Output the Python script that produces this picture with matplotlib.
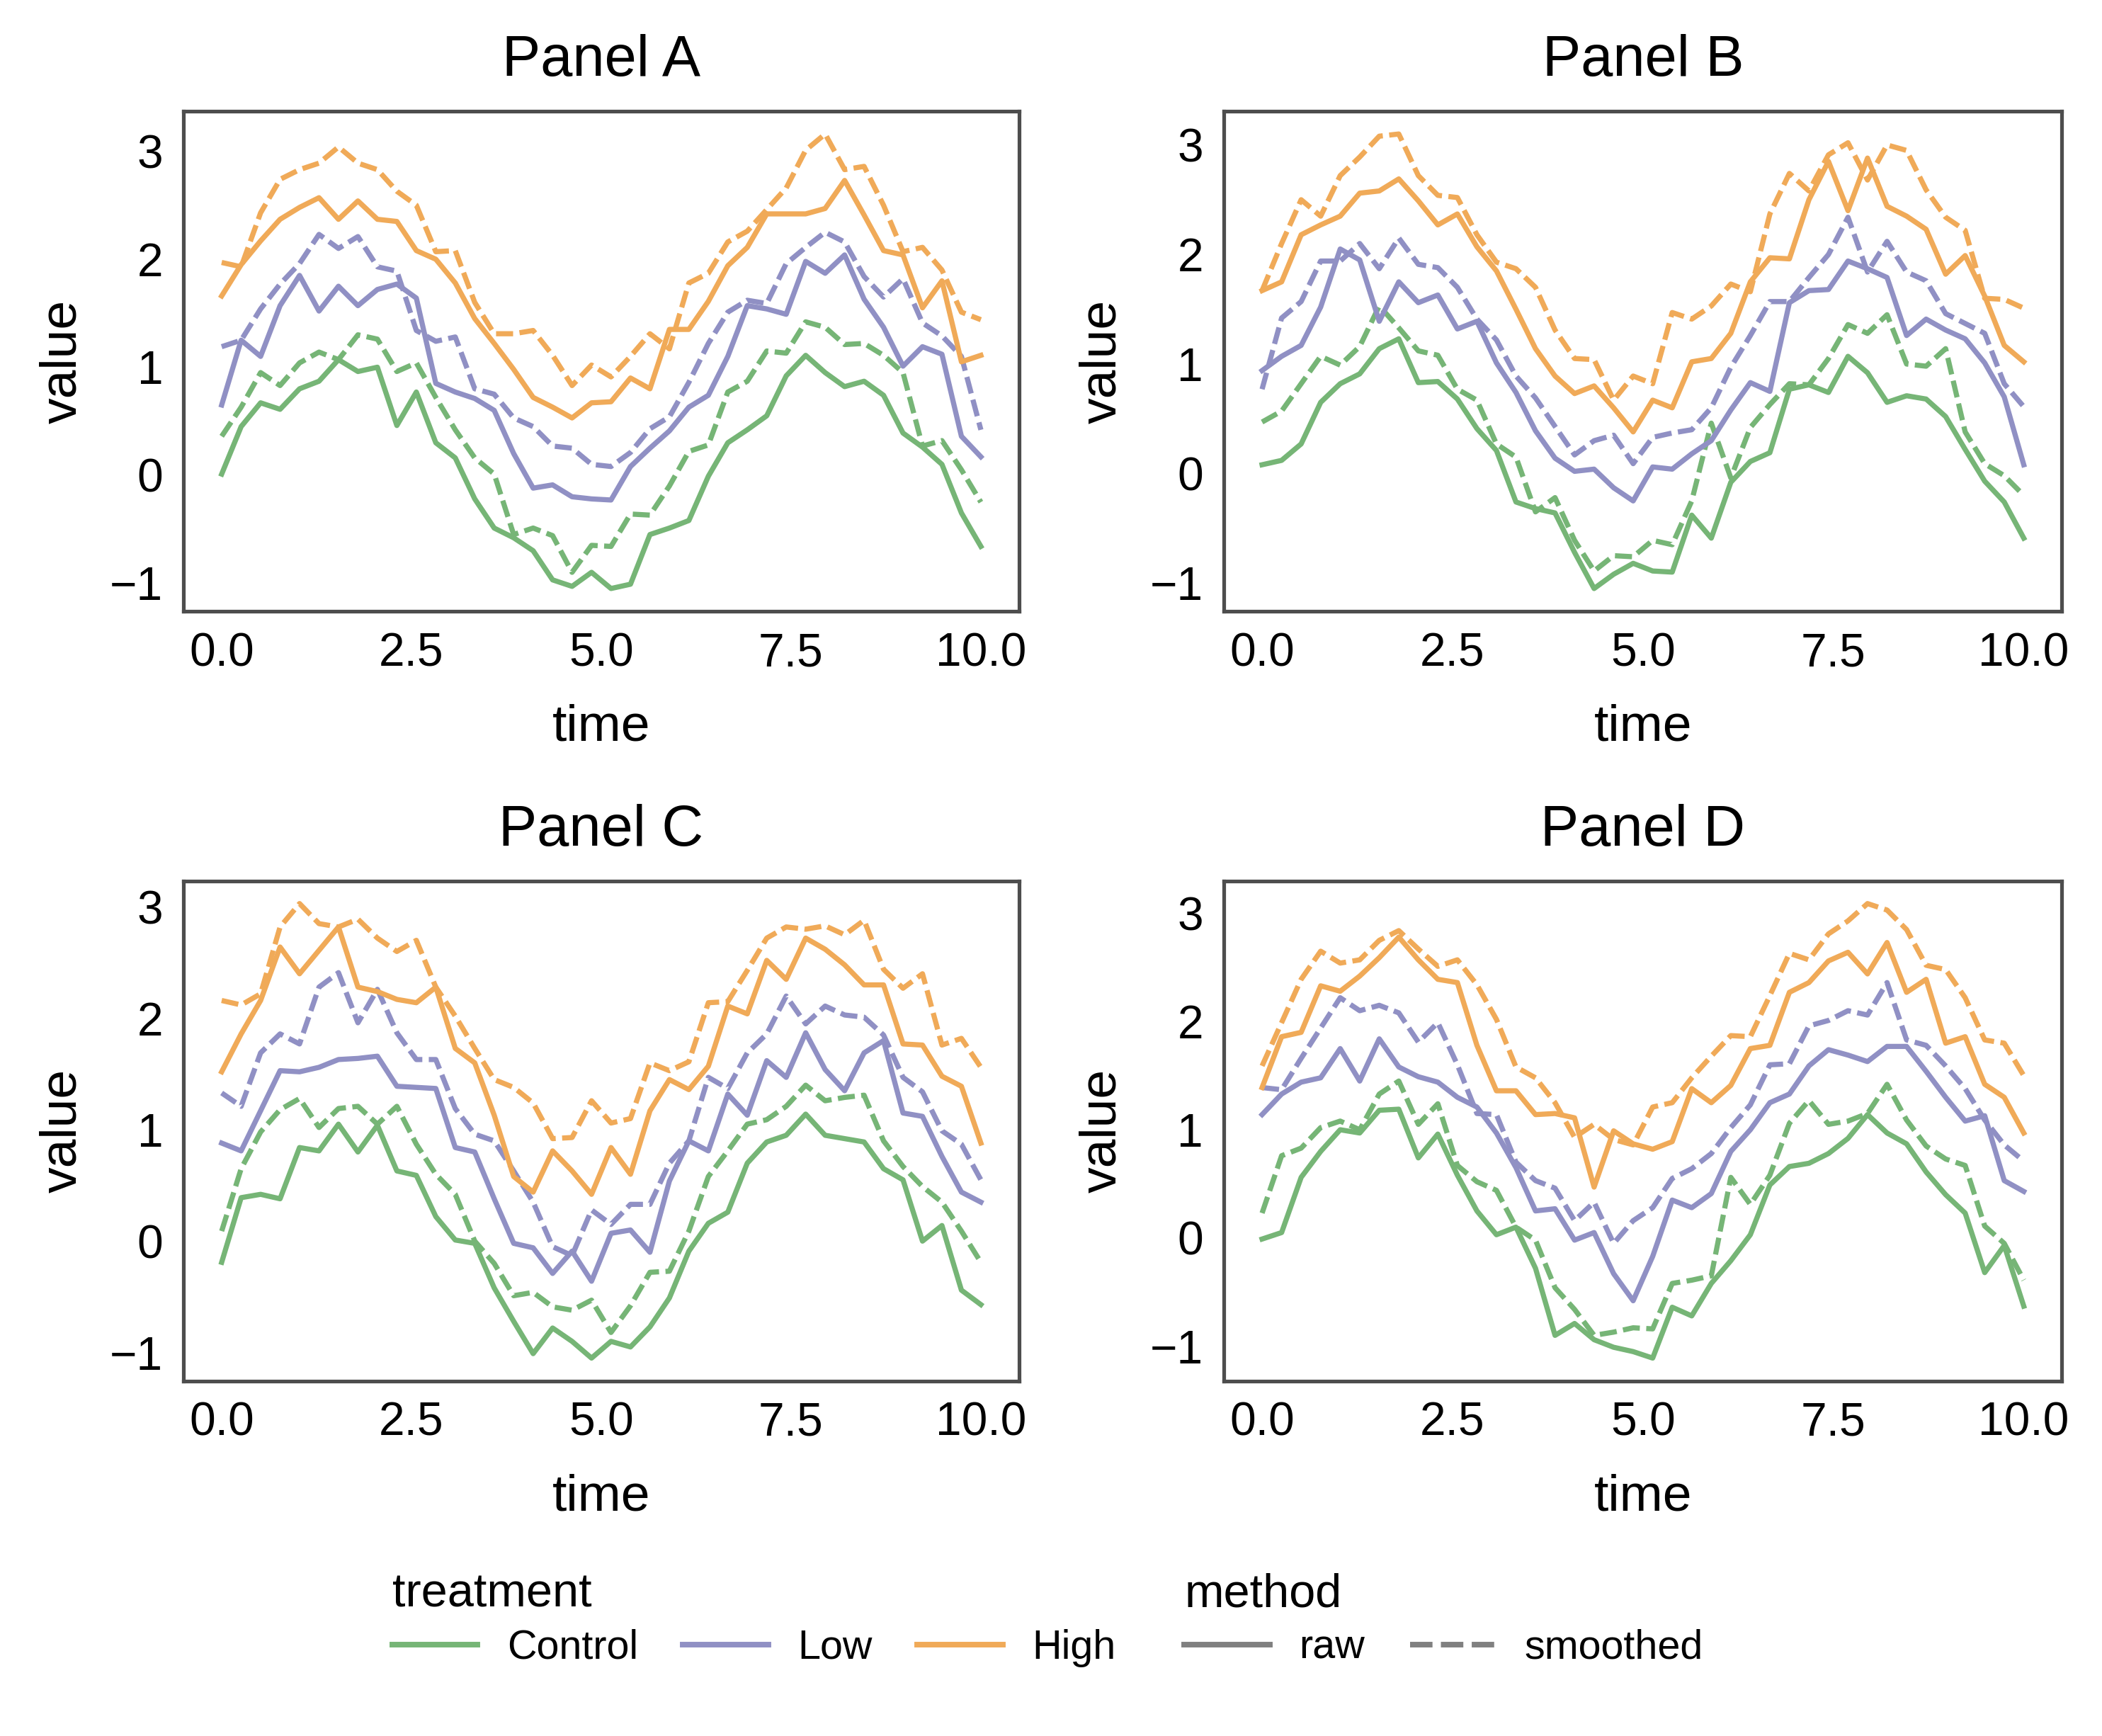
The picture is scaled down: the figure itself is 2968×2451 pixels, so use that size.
#!/usr/bin/env python3
"""Four-panel time series: raw vs smoothed value per treatment."""

import numpy as np
import matplotlib.pyplot as plt
from matplotlib.lines import Line2D

plt.rcParams['font.family'] = ['Liberation Sans', 'DejaVu Sans']

# ---------------------------------------------------------------- data
time = np.linspace(0, 10, 40)
treatments = ['Control', 'Low', 'High']
methods = ['raw', 'smoothed']
panel_titles = ['Panel A', 'Panel B', 'Panel C', 'Panel D']

# Panel A
a_control_raw = [0.01, 0.45, 0.67, 0.61, 0.80, 0.87, 1.07, 0.96, 1.00, 0.46, 0.77, 0.30, 0.16, -0.22, -0.49, -0.58, -0.70, -0.97, -1.03, -0.90,
                 -1.05, -1.01, -0.55, -0.49, -0.42, -0.01, 0.30, 0.42, 0.55, 0.92, 1.11, 0.95, 0.82, 0.87, 0.74, 0.39, 0.26, 0.10, -0.35, -0.66]
a_control_smooth = [0.36, 0.63, 0.95, 0.83, 1.04, 1.14, 1.07, 1.30, 1.26, 0.96, 1.04, 0.72, 0.42, 0.16, 0.01, -0.55, -0.49, -0.56, -0.90, -0.65,
                    -0.66, -0.36, -0.37, -0.10, 0.22, 0.28, 0.77, 0.87, 1.15, 1.13, 1.42, 1.37, 1.21, 1.22, 1.11, 0.95, 0.27, 0.32, 0.05, -0.25]
a_low_raw = [0.65, 1.25, 1.10, 1.57, 1.85, 1.52, 1.75, 1.57, 1.72, 1.77, 1.64, 0.85, 0.77, 0.71, 0.60, 0.20, -0.12, -0.09, -0.20, -0.22,
             -0.23, 0.08, 0.25, 0.41, 0.63, 0.74, 1.10, 1.57, 1.54, 1.49, 1.98, 1.87, 2.04, 1.63, 1.37, 1.01, 1.19, 1.12, 0.36, 0.17]
a_low_smooth = [1.19, 1.25, 1.54, 1.77, 1.96, 2.23, 2.10, 2.21, 1.93, 1.89, 1.34, 1.24, 1.28, 0.80, 0.75, 0.53, 0.45, 0.27, 0.25, 0.10,
                0.08, 0.21, 0.43, 0.54, 0.86, 1.22, 1.51, 1.62, 1.59, 1.96, 2.11, 2.25, 2.16, 1.84, 1.65, 1.82, 1.41, 1.29, 1.10, 0.42]
a_high_raw = [1.66, 1.95, 2.17, 2.37, 2.48, 2.57, 2.37, 2.54, 2.37, 2.35, 2.08, 2.00, 1.78, 1.45, 1.22, 0.98, 0.72, 0.63, 0.53, 0.67,
              0.68, 0.90, 0.80, 1.35, 1.35, 1.61, 1.94, 2.11, 2.42, 2.42, 2.42, 2.47, 2.73, 2.41, 2.08, 2.04, 1.55, 1.80, 1.05, 1.11]
a_high_smooth = [1.97, 1.93, 2.43, 2.74, 2.83, 2.89, 3.04, 2.89, 2.83, 2.63, 2.50, 2.07, 2.08, 1.60, 1.31, 1.31, 1.34, 1.11, 0.83, 1.02,
                 0.91, 1.10, 1.31, 1.17, 1.78, 1.87, 2.16, 2.26, 2.46, 2.66, 3.01, 3.16, 2.83, 2.86, 2.50, 2.07, 2.11, 1.90, 1.51, 1.44]

# Panel B
b_control_raw = [0.08, 0.12, 0.27, 0.65, 0.82, 0.91, 1.14, 1.23, 0.83, 0.84, 0.68, 0.41, 0.21, -0.26, -0.32, -0.36, -0.72, -1.05, -0.92, -0.82,
                 -0.89, -0.90, -0.38, -0.59, -0.08, 0.11, 0.19, 0.77, 0.81, 0.74, 1.07, 0.92, 0.65, 0.71, 0.68, 0.52, 0.22, -0.07, -0.26, -0.59]
b_control_smooth = [0.47, 0.57, 0.82, 1.07, 0.99, 1.16, 1.53, 1.33, 1.12, 1.08, 0.77, 0.67, 0.27, 0.15, -0.35, -0.22, -0.61, -0.89, -0.75, -0.76,
                    -0.61, -0.65, -0.25, 0.46, -0.04, 0.42, 0.63, 0.82, 0.81, 1.05, 1.36, 1.28, 1.45, 1.00, 0.98, 1.14, 0.38, 0.09, -0.02, -0.20]
b_low_raw = [0.94, 1.07, 1.17, 1.52, 2.05, 1.95, 1.39, 1.75, 1.56, 1.63, 1.32, 1.39, 1.01, 0.74, 0.39, 0.14, 0.02, 0.04, -0.13, -0.25,
             0.06, 0.04, 0.18, 0.30, 0.58, 0.83, 0.75, 1.56, 1.67, 1.68, 1.94, 1.87, 1.79, 1.26, 1.41, 1.31, 1.23, 1.01, 0.70, 0.08]
b_low_smooth = [0.77, 1.42, 1.57, 1.94, 1.94, 2.10, 1.87, 2.15, 1.91, 1.88, 1.70, 1.41, 1.22, 0.89, 0.69, 0.43, 0.17, 0.30, 0.35, 0.09,
                0.33, 0.37, 0.40, 0.60, 0.97, 1.26, 1.57, 1.57, 1.79, 2.00, 2.34, 1.84, 2.12, 1.84, 1.76, 1.46, 1.37, 1.28, 0.82, 0.61]
b_high_raw = [1.67, 1.75, 2.18, 2.27, 2.35, 2.56, 2.58, 2.69, 2.49, 2.27, 2.37, 2.07, 1.85, 1.50, 1.14, 0.89, 0.73, 0.80, 0.60, 0.38,
              0.67, 0.60, 1.02, 1.05, 1.28, 1.75, 1.97, 1.96, 2.50, 2.85, 2.40, 2.88, 2.44, 2.35, 2.23, 1.82, 1.99, 1.62, 1.17, 1.02]
b_high_smooth = [1.67, 2.10, 2.50, 2.35, 2.72, 2.89, 3.08, 3.10, 2.72, 2.54, 2.52, 2.18, 1.93, 1.87, 1.70, 1.31, 1.05, 1.04, 0.67, 0.89,
                 0.82, 1.47, 1.41, 1.53, 1.73, 1.66, 2.37, 2.74, 2.58, 2.91, 3.02, 2.68, 3.00, 2.95, 2.59, 2.34, 2.22, 1.60, 1.59, 1.51]

# Panel C
c_control_raw = [-0.19, 0.39, 0.42, 0.38, 0.84, 0.81, 1.05, 0.80, 1.04, 0.63, 0.59, 0.22, 0.01, -0.02, -0.42, -0.72, -1.01, -0.78, -0.90, -1.05,
                 -0.90, -0.95, -0.77, -0.51, -0.09, 0.16, 0.26, 0.70, 0.89, 0.95, 1.14, 0.95, 0.92, 0.89, 0.65, 0.55, 0.00, 0.14, -0.44, -0.57]
c_control_smooth = [0.09, 0.65, 0.98, 1.18, 1.28, 1.02, 1.19, 1.21, 1.05, 1.21, 0.87, 0.60, 0.42, 0.00, -0.20, -0.49, -0.46, -0.59, -0.62, -0.53,
                    -0.82, -0.58, -0.28, -0.27, 0.09, 0.58, 0.81, 1.05, 1.09, 1.21, 1.40, 1.26, 1.29, 1.31, 0.90, 0.67, 0.49, 0.35, 0.09, -0.19]
c_low_raw = [0.88, 0.81, 1.17, 1.53, 1.52, 1.56, 1.63, 1.64, 1.66, 1.39, 1.38, 1.37, 0.84, 0.80, 0.38, -0.02, -0.06, -0.29, -0.09, -0.36,
             0.07, 0.10, -0.10, 0.54, 0.90, 0.81, 1.32, 1.13, 1.62, 1.47, 1.87, 1.54, 1.35, 1.69, 1.80, 1.15, 1.12, 0.76, 0.44, 0.35]
c_low_smooth = [1.33, 1.21, 1.69, 1.86, 1.77, 2.28, 2.41, 1.96, 2.26, 1.87, 1.63, 1.63, 1.19, 0.96, 0.90, 0.63, 0.35, -0.05, -0.13, 0.28,
                0.15, 0.33, 0.33, 0.70, 0.90, 1.47, 1.37, 1.69, 1.86, 2.20, 1.95, 2.11, 2.03, 2.01, 1.85, 1.47, 1.34, 0.99, 0.87, 0.55]
c_high_raw = [1.52, 1.86, 2.16, 2.64, 2.40, 2.61, 2.82, 2.28, 2.24, 2.17, 2.14, 2.28, 1.73, 1.60, 1.13, 0.58, 0.44, 0.81, 0.63, 0.42,
              0.84, 0.60, 1.17, 1.45, 1.36, 1.57, 2.11, 2.04, 2.52, 2.35, 2.72, 2.62, 2.48, 2.30, 2.30, 1.77, 1.76, 1.48, 1.39, 0.88]
c_high_smooth = [2.16, 2.12, 2.22, 2.82, 3.03, 2.85, 2.82, 2.89, 2.72, 2.60, 2.70, 2.28, 2.02, 1.73, 1.45, 1.38, 1.24, 0.92, 0.93, 1.26,
                 1.06, 1.10, 1.60, 1.53, 1.61, 2.14, 2.15, 2.43, 2.72, 2.82, 2.80, 2.83, 2.75, 2.88, 2.44, 2.27, 2.40, 1.76, 1.82, 1.56]

# Panel D
d_control_raw = [-0.01, 0.05, 0.56, 0.80, 1.00, 0.97, 1.18, 1.19, 0.74, 0.96, 0.58, 0.25, 0.03, 0.10, -0.28, -0.90, -0.79, -0.94, -1.01, -1.05,
                 -1.11, -0.64, -0.72, -0.42, -0.21, 0.03, 0.49, 0.66, 0.69, 0.78, 0.92, 1.14, 0.97, 0.87, 0.61, 0.40, 0.23, -0.32, -0.07, -0.63]
d_control_smooth = [0.23, 0.76, 0.83, 1.02, 1.08, 1.00, 1.33, 1.45, 1.05, 1.24, 0.67, 0.52, 0.44, 0.10, -0.02, -0.46, -0.66, -0.90, -0.87, -0.83,
                    -0.84, -0.42, -0.39, -0.35, 0.56, 0.31, 0.58, 1.06, 1.27, 1.05, 1.08, 1.15, 1.42, 1.09, 0.85, 0.73, 0.67, 0.11, -0.05, -0.39]
d_low_raw = [1.14, 1.33, 1.44, 1.48, 1.75, 1.45, 1.84, 1.58, 1.49, 1.44, 1.30, 1.21, 0.97, 0.65, 0.25, 0.27, -0.02, 0.05, -0.33, -0.58,
             -0.17, 0.35, 0.28, 0.41, 0.80, 1.00, 1.25, 1.33, 1.59, 1.74, 1.69, 1.63, 1.77, 1.77, 1.54, 1.30, 1.08, 1.13, 0.53, 0.43]
d_low_smooth = [1.39, 1.37, 1.66, 1.94, 2.22, 2.10, 2.15, 2.08, 1.81, 1.99, 1.60, 1.15, 1.14, 0.70, 0.53, 0.46, 0.16, 0.33, -0.05, 0.16,
                0.28, 0.55, 0.64, 0.78, 1.02, 1.23, 1.60, 1.61, 1.96, 2.01, 2.10, 2.06, 2.36, 1.83, 1.78, 1.59, 1.38, 1.09, 0.86, 0.71]
d_high_raw = [1.39, 1.86, 1.90, 2.33, 2.28, 2.42, 2.59, 2.78, 2.57, 2.39, 2.36, 1.78, 1.36, 1.36, 1.14, 1.15, 1.11, 0.47, 0.99, 0.87,
              0.82, 0.89, 1.38, 1.25, 1.41, 1.75, 1.78, 2.27, 2.36, 2.56, 2.64, 2.44, 2.73, 2.27, 2.39, 1.80, 1.86, 1.42, 1.30, 0.97]
d_high_smooth = [1.59, 1.99, 2.39, 2.65, 2.54, 2.57, 2.75, 2.84, 2.67, 2.51, 2.57, 2.34, 2.02, 1.58, 1.48, 1.25, 0.93, 1.05, 0.91, 0.86,
                 1.21, 1.25, 1.48, 1.68, 1.87, 1.86, 2.24, 2.63, 2.57, 2.81, 2.93, 3.09, 3.03, 2.85, 2.52, 2.48, 2.22, 1.83, 1.80, 1.50]

# ---------------------------------------------------------------- style
colors = {'Control': '#76b576', 'Low': '#9090c4', 'High': '#f0aa58'}
dash_style = {'raw': None, 'smoothed': (3.3, 1.25)}
spine_color = '#4d4d4d'
lw = 1.75
legend_lw = 1.9


def panel_series(prefix):
    """Collect the six series of one panel into {(treatment, method): values}."""
    g = globals()
    out = {}
    for trt in treatments:
        for meth, suffix in zip(methods, ['raw', 'smooth']):
            out[(trt, meth)] = g[f'{prefix}_{trt.lower()}_{suffix}']
    return out


def draw_panel(ax, title, series):
    for trt in treatments:
        for meth in methods:
            line, = ax.plot(time, series[(trt, meth)], color=colors[trt], lw=lw)
            if dash_style[meth] is not None:
                line.set_dashes(dash_style[meth])

    ax.set_title(title, fontsize=19.5, pad=12)
    ax.set_xlabel('time', fontsize=17.6, labelpad=9.5)
    ax.set_ylabel('value', fontsize=17.6, labelpad=8)
    ax.set_xticks([0, 2.5, 5, 7.5, 10])
    ax.set_yticks([-1, 0, 1, 2, 3])
    ax.tick_params(axis='both', length=0, pad=7, labelsize=15.8)
    for sp in ax.spines.values():
        sp.set_color(spine_color)
        sp.set_linewidth(1.25)


fig = plt.figure(figsize=(2968 / 300, 2451 / 300), dpi=300)

axes_pos = [
    [0.0874, 0.6479, 0.3973, 0.2880],
    [0.5823, 0.6479, 0.3986, 0.2880],
    [0.0874, 0.2046, 0.3973, 0.2880],
    [0.5823, 0.2046, 0.3986, 0.2880],
]

for pos, title, prefix in zip(axes_pos, panel_titles, ['a', 'b', 'c', 'd']):
    ax = fig.add_axes(pos)
    draw_panel(ax, title, panel_series(prefix))

# ---------------------------------------------------------------- legends
trt_handles = [Line2D([], [], color=colors[t], lw=legend_lw) for t in treatments]
meth_handles = [Line2D([], [], color='#808080', lw=legend_lw),
                Line2D([], [], color='#808080', lw=legend_lw, dashes=(4, 1.5))]

legend_kw = dict(loc='upper left', frameon=False, fontsize=13.8,
                 title_fontsize=16, alignment='left', borderpad=0,
                 borderaxespad=0, handlelength=2.1, handletextpad=0.72,
                 columnspacing=1.1, labelspacing=0.3)

leg1 = fig.legend(trt_handles, treatments, title='treatment', ncol=3,
                  bbox_to_anchor=(0.1865, 0.094), **legend_kw)
leg2 = fig.legend(meth_handles, methods, title='method', ncol=2,
                  bbox_to_anchor=(0.5635, 0.094), **legend_kw)

fig.savefig('out.png', dpi=300)
plt.close(fig)
